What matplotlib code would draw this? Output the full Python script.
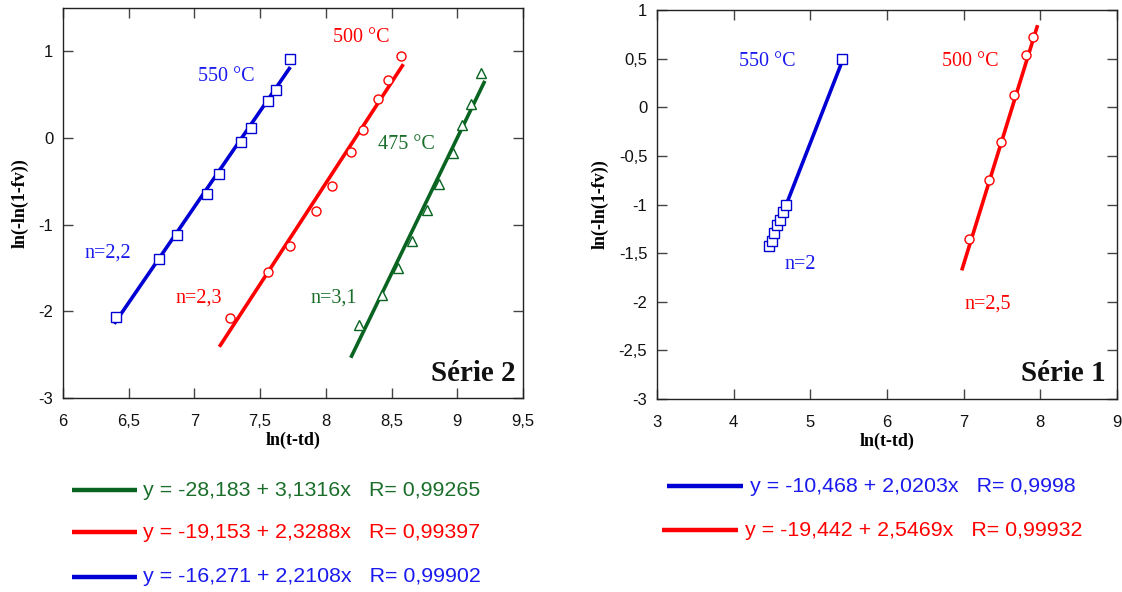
import matplotlib
matplotlib.use("Agg")
import matplotlib.pyplot as plt
from matplotlib.lines import Line2D
from matplotlib.ticker import FuncFormatter, MultipleLocator
import numpy as np

# ---------------- data: Série 2 (left) ----------------
s2_550_x = [6.40, 6.73, 6.865, 7.093, 7.187, 7.352, 7.428, 7.562, 7.62, 7.727]
s2_550_y = [-2.07, -1.40, -1.12, -0.643, -0.41, -0.05, 0.113, 0.422, 0.558, 0.915]
s2_500_x = [7.271, 7.56, 7.727, 7.923, 8.045, 8.19, 8.285, 8.40, 8.476, 8.570]
s2_500_y = [-2.08, -1.55, -1.244, -0.845, -0.554, -0.166, 0.093, 0.45, 0.666, 0.945]
s2_475_x = [8.253, 8.425, 8.547, 8.654, 8.773, 8.861, 8.966, 9.039, 9.105, 9.181]
s2_475_y = [-2.16, -1.81, -1.50, -1.19, -0.83, -0.53, -0.17, 0.15, 0.39, 0.745]

# fits: intercept, slope, R, x-range
s2_fit_a = [-28.183, -19.153, -16.271]
s2_fit_b = [3.1316, 2.3288, 2.2108]
s2_fit_r = [0.99265, 0.99397, 0.99902]
s2_fit_xmin = [8.19, 7.19, 6.39]
s2_fit_xmax = [9.21, 8.59, 7.73]

# ---------------- data: Série 1 (right) ----------------
s1_550_x = [4.457, 4.50, 4.53, 4.57, 4.604, 4.643, 4.678, 5.417]
s1_550_y = [-1.427, -1.375, -1.29, -1.21, -1.16, -1.077, -1.0, 0.50]
s1_500_x = [7.07, 7.334, 7.487, 7.66, 7.813, 7.90]
s1_500_y = [-1.35, -0.75, -0.357, 0.131, 0.535, 0.723]

s1_fit_a = [-10.468, -19.442]
s1_fit_b = [2.0203, 2.5469]
s1_fit_r = [0.9998, 0.99932]
s1_fit_xmin = [4.69, 6.975]
s1_fit_xmax = [5.42, 7.965]

BLUE = "#0000d4"
BLUE_T = "#1a1aee"
RED = "#ff0000"
GREEN = "#086420"
GREEN_T = "#1a6e2a"

SERIF = "Liberation Serif"
SANS = "Liberation Sans"


def comma(v, pos=None):
    s = "%g" % v
    return s.replace(".", ",")


fig = plt.figure(figsize=(11.22, 5.92), dpi=100)
axL = fig.add_axes([0.0561, 0.3277, 0.4100, 0.6588])
axR = fig.add_axes([0.5856, 0.3260, 0.4099, 0.6571])


def style_axes(ax):
    for sp in ax.spines.values():
        sp.set_color("#222222")
        sp.set_linewidth(1.0)
    ax.tick_params(which="both", direction="in", top=True, right=True,
                   length=7, width=1.0, color="#444444",
                   labelsize=12, labelcolor="#111111")
    ax.tick_params(axis="x", pad=11.5)
    ax.tick_params(axis="y", pad=7)
    for lab in ax.get_xticklabels() + ax.get_yticklabels():
        lab.set_fontfamily(SANS)
    ax.xaxis.set_major_formatter(FuncFormatter(comma))
    ax.yaxis.set_major_formatter(FuncFormatter(comma))
    ax.set_xlabel("ln(t-td)", fontfamily=SERIF, fontweight="bold", fontsize=13, labelpad=2)
    ax.set_ylabel("ln(-ln(1-fv))", fontfamily=SERIF, fontweight="bold", fontsize=13, labelpad=7)


def fit_line(ax, a, b, x0, x1, color):
    xs = np.array([x0, x1])
    ax.plot(xs, a + b * xs, color=color, lw=2.6, solid_capstyle="butt", zorder=2)


mk = dict(mfc="white", mew=1.0, ls="none", zorder=3)

# ---- left panel ----
ax = axL
cols_L = [GREEN, RED, BLUE]
for a, b, x0, x1, c in zip(s2_fit_a, s2_fit_b, s2_fit_xmin, s2_fit_xmax, cols_L):
    fit_line(ax, a, b, x0, x1, c)
ax.plot(s2_550_x, s2_550_y, marker="s", ms=6.5, mec=BLUE, **mk)
ax.plot(s2_500_x, s2_500_y, marker="o", ms=6.5, mec=RED, **mk)
ax.plot(s2_475_x, s2_475_y, marker="^", ms=6.5, mec=GREEN, **mk)
ax.set_xlim(6, 9.5)
ax.set_ylim(-3, 1.5)
ax.xaxis.set_major_locator(MultipleLocator(0.5))
ax.yaxis.set_major_locator(MultipleLocator(1))
style_axes(ax)
tk = dict(fontfamily=SERIF, fontsize=14.5, ha="center", va="center")
ax.text(7.245, 0.71, "550 °C", color=BLUE_T, **tk)
ax.text(8.273, 1.16, "500 °C", color=RED, **tk)
ax.text(8.615, -0.08, "475 °C", color=GREEN_T, **tk)
ax.text(6.345, -1.33, "n=2,2", color=BLUE_T, **tk)
ax.text(7.03, -1.85, "n=2,3", color=RED, **tk)
ax.text(8.057, -1.85, "n=3,1", color=GREEN_T, **tk)
ax.text(0.985, 0.062, "Série 2", transform=ax.transAxes, ha="right", va="center",
        fontfamily=SERIF, fontweight="bold", fontsize=21, color="#111111")

# ---- right panel ----
ax = axR
cols_R = [BLUE, RED]
for a, b, x0, x1, c in zip(s1_fit_a, s1_fit_b, s1_fit_xmin, s1_fit_xmax, cols_R):
    fit_line(ax, a, b, x0, x1, c)
ax.plot(s1_550_x, s1_550_y, marker="s", ms=6.5, mec=BLUE, **mk)
ax.plot(s1_500_x, s1_500_y, marker="o", ms=6.5, mec=RED, **mk)
ax.set_xlim(3, 9)
ax.set_ylim(-3, 1)
ax.xaxis.set_major_locator(MultipleLocator(1))
ax.yaxis.set_major_locator(MultipleLocator(0.5))
style_axes(ax)
ax.text(4.444, 0.474, "550 °C", color=BLUE_T, **tk)
ax.text(7.09, 0.474, "500 °C", color=RED, **tk)
ax.text(4.865, -1.62, "n=2", color=BLUE_T, **tk)
ax.text(7.32, -2.02, "n=2,5", color=RED, **tk)
ax.text(0.975, 0.066, "Série 1", transform=ax.transAxes, ha="right", va="center",
        fontfamily=SERIF, fontweight="bold", fontsize=21, color="#111111")


# ---- equation legends below ----
def eq_label(a, b, r):
    return "y = %s + %sx   R= %s" % (comma(a), comma(b), comma(r))


W, H = 1122.0, 592.0


def legend_row(x0, x1, xt, y, color, tcolor, text):
    fig.add_artist(Line2D([x0 / W, x1 / W], [1 - y / H, 1 - y / H],
                          transform=fig.transFigure, color=color, lw=3.2,
                          solid_capstyle="butt"))
    fig.text(xt / W, 1 - y / H, text, color=tcolor, fontfamily=SANS,
             fontsize=15.4, ha="left", va="center")


rowsL_y = [490, 532, 577]
textL_cols = [GREEN_T, RED, BLUE_T]
for i in range(3):
    legend_row(72, 137, 143, rowsL_y[i], cols_L[i], textL_cols[i],
               eq_label(s2_fit_a[i], s2_fit_b[i], s2_fit_r[i]))

legend_row(667, 743, 750, 486, BLUE, BLUE_T, eq_label(s1_fit_a[0], s1_fit_b[0], s1_fit_r[0]))
legend_row(662, 738, 745, 530, RED, RED, eq_label(s1_fit_a[1], s1_fit_b[1], s1_fit_r[1]))

fig.savefig("out.png", dpi=100)
